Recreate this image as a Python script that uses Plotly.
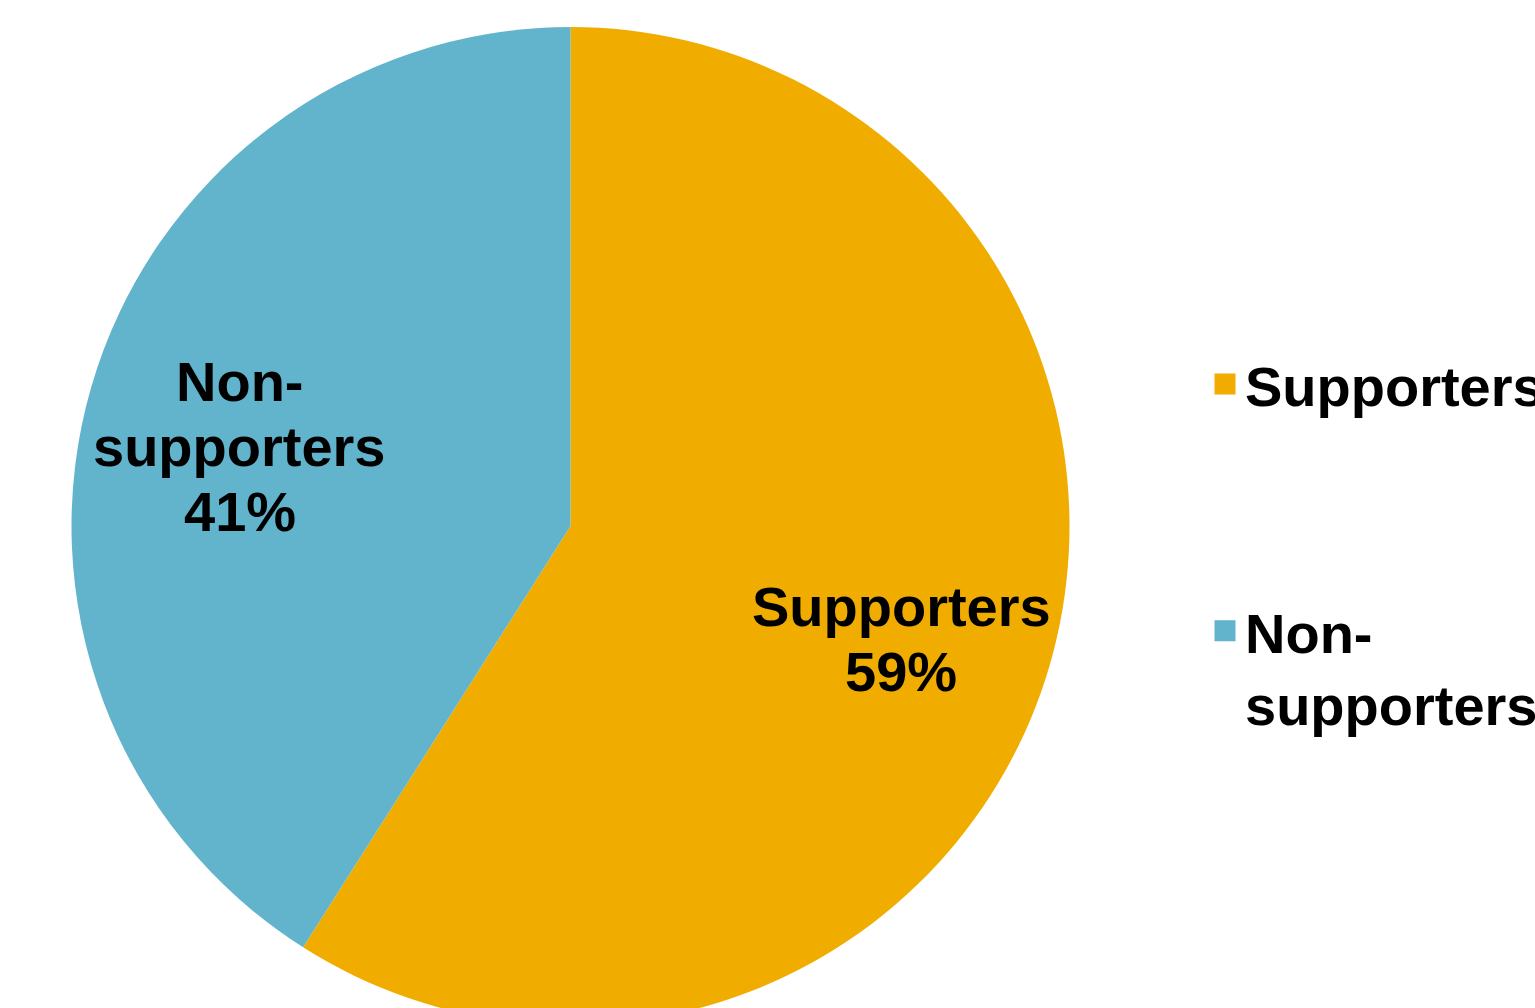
import math
import plotly.graph_objects as go

categories = ["Supporters", "Non-supporters"]
slice_labels = ["Supporters", "Non-<br>supporters"]
values = [59, 41]
colors = ["#F0AD00", "#62B3CC"]

W, H = 1535, 1040
FONT = dict(family="Liberation Sans, Arial", size=56, color="black", weight="bold")
dom_x = [71 / W, 1070 / W]
dom_y = [(H - 1025) / H, (H - 27) / H]

fig = go.Figure()

# pie
fig.add_trace(
    go.Pie(
        labels=categories,
        values=values,
        textinfo="none",
        sort=False,
        direction="clockwise",
        rotation=0,
        marker=dict(colors=colors, line=dict(color="white", width=0)),
        domain=dict(x=dom_x, y=dom_y),
        hoverinfo="label+percent",
        showlegend=False,
    )
)

# slice labels placed along each slice's bisector (derived from the values)
cx = (dom_x[0] + dom_x[1]) / 2 * W
cy = H - (dom_y[0] + dom_y[1]) / 2 * H
R = min((dom_x[1] - dom_x[0]) * W, (dom_y[1] - dom_y[0]) * H) / 2
total = sum(values)
cum = 0
LINE_PITCH = 65
for lab, v in zip(slice_labels, values):
    mid = (cum + v / 2) / total * 2 * math.pi
    cum += v
    px = cx + 0.69 * R * math.sin(mid)
    py = cy - 0.69 * R * math.cos(mid) + 17
    lines = lab.split("<br>") + [f"{round(100 * v / total)}%"]
    n = len(lines)
    for i, ln in enumerate(lines):
        fig.add_annotation(
            x=px / W,
            y=(H - py) / H,
            xref="paper",
            yref="paper",
            text=ln,
            showarrow=False,
            xanchor="center",
            yanchor="middle",
            yshift=-(i - (n - 1) / 2) * LINE_PITCH,
            font=FONT,
        )

# legend entries
for i, (lab, c) in enumerate(zip(slice_labels, colors)):
    fig.add_trace(
        go.Scatter(
            x=[None],
            y=[None],
            mode="markers",
            name=lab,
            legendgroup=f"g{i}",
            marker=dict(symbol="square", size=16, color=c, line=dict(color=c, width=5)),
            showlegend=True,
        )
    )

fig.update_layout(
    width=W,
    height=H,
    margin=dict(l=0, r=0, t=0, b=0, autoexpand=False),
    paper_bgcolor="white",
    plot_bgcolor="white",
    xaxis=dict(visible=False),
    yaxis=dict(visible=False),
    showlegend=True,
    legend=dict(
        x=1205 / W,
        y=(H - 341) / H,
        xanchor="left",
        yanchor="top",
        valign="top",
        tracegroupgap=171,
        font=FONT,
        bgcolor="rgba(0,0,0,0)",
    ),
)

fig.write_html("out.html")
